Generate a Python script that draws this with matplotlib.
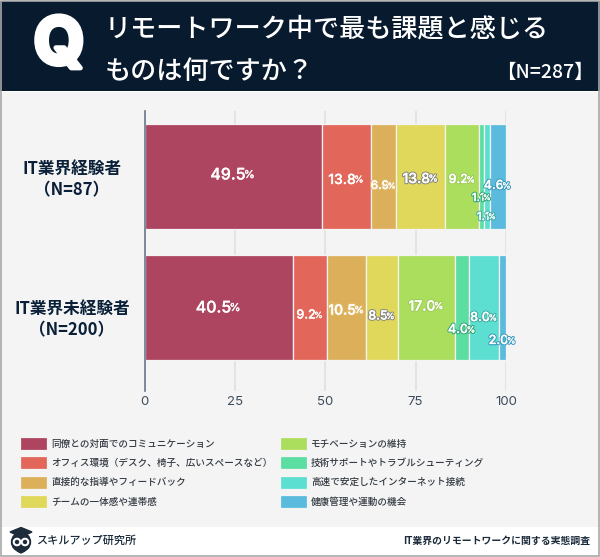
import matplotlib

matplotlib.use("Agg")
import matplotlib.patheffects as pe
import matplotlib.pyplot as plt
from matplotlib.patches import Circle, Ellipse, Polygon, Rectangle

plt.rcParams["font.family"] = ["Noto Sans CJK JP", "DejaVu Sans"]

W, H = 600, 557

# Data
groups = ["IT業界経験者\n（N=87）", "IT業界未経験者\n（N=200）"]
items = [
    "同僚との対面でのコミュニケーション",
    "オフィス環境（デスク、椅子、広いスペースなど）",
    "直接的な指導やフィードバック",
    "チームの一体感や連帯感",
    "モチベーションの維持",
    "技術サポートやトラブルシューティング",
    "高速で安定したインターネット接続",
    "健康管理や運動の機会",
]
# printed percentages
experienced = [49.5, 13.8, 6.9, 13.8, 9.2, 1.1, 1.1, 4.6]
inexperienced = [40.5, 9.2, 10.5, 8.5, 17.0, 4.0, 8.0, 2.0]
# segment lengths as drawn, they differ a little from the printed numbers
experienced_len = [49.1, 13.65, 6.95, 13.55, 9.4, 1.4, 1.4, 4.6]
inexperienced_len = [41.1, 9.5, 10.7, 8.85, 15.8, 3.9, 8.3, 1.9]
xticks = [0, 25, 50, 75, 100]

colors = ["#ad4560", "#e2675a", "#dcb05a", "#e0d85a",
          "#acde5e", "#5cdea3", "#5cded0", "#5abbde"]
# label styling: vertical nudge in pixels, font size, outline colour
nudge = [[-1.5, 3.5, 9.5, 2.5, 3.5, 21.5, 40.5, 9.5],
         [0.5, 8, 3, 9, -1, 22.5, 10.5, 33.5]]
sizes = [[11.5, 10, 8.5, 10, 9, 8, 8, 9],
         [11.5, 9, 10, 9, 10, 9, 9, 9]]
outlines = [None, None, "#e0b868", "#8a8a80", "#a0cc60", "#35a878", "#45b0a5", "#3a9cc0"]


def fx(x):
    return x / W


def fy(y):
    return 1 - y / H


fig = plt.figure(figsize=(W / 100, H / 100), dpi=100, facecolor="white")

# Panels behind the chart
fig.add_artist(Rectangle((0, fy(527)), 1, (527 - 92) / H, color="#f4f4f4", lw=0, zorder=-3))
fig.add_artist(Rectangle((0, fy(91)), 1, 90 / H, color="#071a2e", lw=0, zorder=-3))
fig.add_artist(Rectangle((0.001, 0.001), 0.998, 0.998, fill=False, ec="#a8a8a8", lw=1.2, zorder=-2))

# Header
fig.text(fx(59), fy(47), "Q", color="white", fontsize=47, fontweight="bold",
         family="Inter", ha="center", va="center",
         path_effects=[pe.withStroke(linewidth=3.5, foreground="white")])
fig.text(fx(105), fy(29), "リモートワーク中で最も課題と感じる", color="white",
         fontsize=18.8, fontweight="medium", va="center")
fig.text(fx(105), fy(71), "ものは何ですか？", color="white",
         fontsize=18.8, fontweight="medium", va="center")
fig.text(fx(594), fy(72), "【N=287】", color="white", fontsize=14,
         fontweight="medium", ha="right", va="center")

# Chart
ax = fig.add_axes([fx(144.5), fy(391), (506 - 144.5) / W, 280 / H])
ax.patch.set_alpha(0)
rows = [experienced_len, inexperienced_len]
printed = [experienced, inexperienced]
for i, row in enumerate(rows):
    left = 0
    for j, val in enumerate(row):
        ax.barh(i, val, left=left, height=0.8, color=colors[j],
                edgecolor="#f4f4f4", linewidth=0.9,
                label=items[j] if i == 0 else None, zorder=2)
        left += val

ax.set_xlim(0, 100)
ax.set_ylim(1 + 0.5 + 18 / 131, -0.5)
ax.set_xticks(xticks)
ax.set_yticks([])
ax.grid(axis="x", color="#e0e0e0", lw=1.2, zorder=0)
ax.set_axisbelow(True)
ax.tick_params(axis="x", length=0, pad=3.5, labelsize=9.5, labelcolor="#3c4c5c")
for lab in ax.get_xticklabels():
    lab.set_family("Inter")
for s in ["top", "right", "bottom"]:
    ax.spines[s].set_visible(False)
ax.spines["left"].set_color("#68788a")
ax.spines["left"].set_linewidth(1.2)
ax.spines["left"].set_zorder(3)

# Group names sit a little below the bar centres
for i, (name, dy) in enumerate(zip(groups, [3, 12])):
    ax.annotate(name, xy=(0, i), xytext=(-72.5, -dy), textcoords="offset pixels",
                ha="center", va="center", fontsize=12, fontweight="bold",
                color="#0a2038", linespacing=1.25)

# Value labels: number plus a smaller percent sign
renderer = fig.canvas.get_renderer()
for i, row in enumerate(rows):
    left = 0
    for j, val in enumerate(row):
        fs = sizes[i][j]
        dy = nudge[i][j]
        effects = [pe.Stroke(linewidth=0.2, foreground="white"), pe.Normal()]
        if outlines[j]:
            effects.insert(0, pe.Stroke(linewidth=1.8, foreground=outlines[j]))
        kw = dict(color="white", family="Inter", fontweight="medium", va="center",
                  textcoords="offset pixels", path_effects=effects, zorder=5)
        num = ax.annotate(f"{printed[i][j]:.1f}", xy=(left + val / 2, i), xytext=(0, -dy),
                          ha="center", fontsize=fs, **kw)
        pct = ax.annotate("%", xy=(left + val / 2, i), xytext=(0, -dy),
                          ha="left", fontsize=fs * 0.68, **kw)
        nw = num.get_window_extent(renderer).width
        pw = pct.get_window_extent(renderer).width
        num.set_position((-pw / 2, -dy))
        pct.set_position((nw / 2 - pw / 2 - 1.5, -dy))
        left += val

# Legend
ax.legend(loc="upper left", bbox_to_anchor=(fx(19.5), fy(437)), bbox_transform=fig.transFigure,
          ncols=2, frameon=False, prop={"size": 6.9, "weight": "medium"},
          handlelength=2.87, handleheight=1.685, handletextpad=0.42, labelspacing=0.68,
          columnspacing=0.75, borderpad=0, borderaxespad=0, labelcolor="#333a42")

# Footer
fig.text(fx(36), fy(541), "スキルアップ研究所", color="#1a2a3a", fontsize=8,
         fontweight="medium", va="center")
fig.text(fx(590), fy(541), "IT業界のリモートワークに関する実態調査", color="#1a2a3a",
         fontsize=7.1, fontweight="bold", ha="right", va="center")

# Owl logo
logo = fig.add_axes([fx(8), fy(555), 26 / W, 28 / H])
logo.set_xlim(0, 26)
logo.set_ylim(28, 0)
logo.axis("off")
logo.add_patch(Ellipse((13, 15), 19, 19, color="#1d2b3a"))
logo.add_patch(Circle((9, 15), 3.6, color="white"))
logo.add_patch(Circle((17, 15), 3.6, color="white"))
logo.add_patch(Circle((9, 15), 1.5, color="#1d2b3a"))
logo.add_patch(Circle((17, 15), 1.5, color="#1d2b3a"))
logo.add_patch(Polygon([[2, 5], [13, 0.5], [24, 5], [13, 10]], color="#1d2b3a"))
logo.add_patch(Polygon([[9, 24], [13, 22.5], [17, 24], [13, 26]], color="#1d2b3a"))

fig.savefig("out.png", dpi=100, facecolor=fig.get_facecolor())
